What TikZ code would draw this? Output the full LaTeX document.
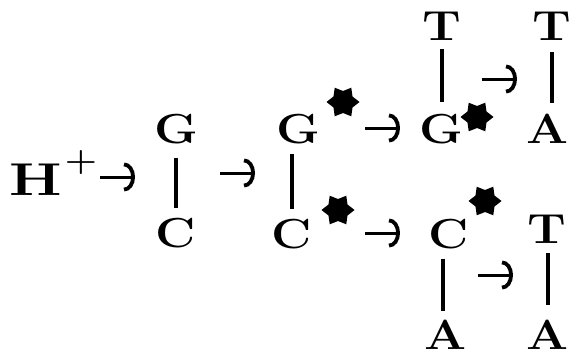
\documentclass[tikz,border=0pt]{standalone}
\usepackage{fontspec}
\setmainfont{Latin Modern Roman}
\usetikzlibrary{arrows.meta,shapes.geometric}
\begin{document}
\begin{tikzpicture}[x=1pt,y=-1pt,
  base/.style={font=\fontsize{42}{42}\selectfont\bfseries, inner sep=0pt, anchor=base,
               xscale=1.18, transform shape},
  bond/.style={line width=3.5pt},
  react/.style={line width=3pt, -{Arc Barb[length=11pt,width=29pt,line width=3.8pt]}},
  excite/.style={star, star points=6, star point ratio=1.5, shape border rotate=30,
                 fill=black, draw=none, inner sep=0pt, minimum size=33pt}]
\useasboundingbox (0,0) rectangle (570,356);

% proton
\node[base, font=\fontsize{46}{46}\selectfont\bfseries, xscale=1.1] (H) at (36,195) {H};
\node[font=\fontsize{32}{32}\selectfont\bfseries, inner sep=0pt, xscale=1.15, transform shape] (plus) at (81,163) {+};
\coordinate (r1a) at (100,177); \coordinate (r1b) at (135,177);
\draw[react] (r1a) -- (r1b);

% G-C pair
\node[base] (G1) at (176,143) {G};
\node[base] (C1) at (176,247) {C};
\draw[bond, shorten <=14pt, shorten >=9pt] (G1.south) -- (C1.north);
\coordinate (r2a) at (220,173); \coordinate (r2b) at (255,173);
\draw[react] (r2a) -- (r2b);

% excited pair
\node[base] (G2) at (298,143) {G};
\node[base] (C2) at (292,248) {C};
\node[excite] (s1) at (343,102) {};
\node[excite] (s2) at (338,210) {};
\draw[bond, shorten <=10pt, shorten >=9pt] (G2.south -| C2.north) -- (C2.north);
\coordinate (r3a) at (365,128); \coordinate (r3b) at (400,128);
\draw[react] (r3a) -- (r3b);
\coordinate (r4a) at (365,233); \coordinate (r4b) at (400,233);
\draw[react] (r4a) -- (r4b);

% upper branch: G*-T to A-T
\node[base] (T1) at (442,40) {T};
\node[base] (G3) at (441,143) {G};
\node[excite] (s3) at (477,117) {};
\draw[bond, shorten <=9pt, shorten >=11pt] (T1.south) -- (T1.south |- G3.north);
\coordinate (r5a) at (482,79); \coordinate (r5b) at (517,79);
\draw[react] (r5a) -- (r5b);
\node[base] (T2) at (552,40) {T};
\node[base] (A1) at (548,143) {A};
\draw[bond, shorten <=12pt, shorten >=10pt] (T2.south) -- (T2.south |- A1.north);

% lower branch: C*-A to T-A
\node[base] (C3) at (449,248) {C};
\node[excite] (s4) at (485,201) {};
\node[base] (A2) at (446,349) {A};
\draw[bond, shorten <=10pt, shorten >=8pt] (C3.south -| 443,0) -- (A2.north -| 443,0);
\coordinate (r6a) at (478,275); \coordinate (r6b) at (513,275);
\draw[react] (r6a) -- (r6b);
\node[base] (T3) at (547,243) {T};
\node[base] (A3) at (548,349) {A};
\draw[bond, shorten <=10pt, shorten >=14pt] (T3.south -| A3.north) -- (A3.north);
\end{tikzpicture}
\end{document}
